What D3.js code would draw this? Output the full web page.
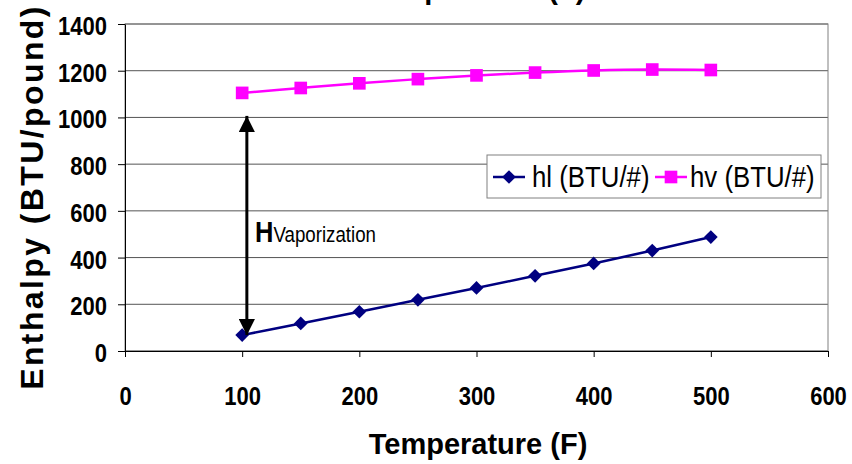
<!DOCTYPE html>
<html>
<head>
<meta charset="utf-8">
<script src="https://cdn.jsdelivr.net/npm/d3@7"></script>
<style>
  body { margin: 0; background: #fff; }
  svg { display: block; font-family: "Liberation Sans", Arial, sans-serif; }
</style>
</head>
<body>
<div id="chart"></div>
<script>
// data (steam table values)
var temps = [100, 150, 200, 250, 300, 350, 400, 450, 500];
var hl = [68, 118, 168, 219, 270, 322, 375, 430, 488];
var hv = [1105, 1126, 1146, 1164, 1180, 1192, 1201, 1205, 1203];
var xTicks = [0, 100, 200, 300, 400, 500, 600];
var yTicks = [0, 200, 400, 600, 800, 1000, 1200, 1400];
var seriesNames = ["hl (BTU/#)", "hv (BTU/#)"];

var svgWidth = 852;
var svgHeight = 464;
var squeeze = 0.88;   // the original text looks horizontally condensed

var svg = d3.select("#chart")
  .append("svg")
  .attr("width", svgWidth)
  .attr("height", svgHeight);

var x = d3.scaleLinear().domain([0, 600]).range([125, 828]);
var y = d3.scaleLinear().domain([0, 1400]).range([351, 24]);

// gridlines
svg.append("g")
  .selectAll("line")
  .data(yTicks)
  .enter()
  .append("line")
  .attr("x1", x(0))
  .attr("x2", x(600))
  .attr("y1", d => y(d))
  .attr("y2", d => y(d))
  .attr("stroke", "#555")
  .attr("stroke-width", 1);

// plot border
svg.append("rect")
  .attr("x", x(0))
  .attr("y", y(1400))
  .attr("width", x(600) - x(0))
  .attr("height", y(0) - y(1400))
  .attr("fill", "none")
  .attr("stroke", "#808080");

// axes
var bottomAxis = d3.axisBottom(x).tickValues(xTicks).tickFormat(d3.format("d")).tickSize(6).tickSizeOuter(0);
var leftAxis = d3.axisLeft(y).tickValues(yTicks).tickFormat(d3.format("d")).tickSize(7).tickSizeOuter(0);

var gx = svg.append("g")
  .attr("transform", `translate(0, ${y(0)})`)
  .call(bottomAxis);
gx.selectAll("text")
  .attr("font-family", "Liberation Sans, Arial, sans-serif")
  .attr("font-size", "25px")
  .attr("font-weight", "bold")
  .attr("fill", "#000")
  .attr("y", 54)
  .attr("dy", 0)
  .attr("transform", `scale(${squeeze}, 1)`);

var gy = svg.append("g")
  .attr("transform", `translate(${x(0)}, 0)`)
  .call(leftAxis);
gy.selectAll("text")
  .attr("font-family", "Liberation Sans, Arial, sans-serif")
  .attr("font-size", "25px")
  .attr("font-weight", "bold")
  .attr("fill", "#000")
  .attr("x", -18 / squeeze)
  .attr("dy", "0.42em")
  .attr("transform", `scale(${squeeze}, 1)`);

svg.selectAll(".domain").attr("stroke", "#000");
svg.selectAll(".tick line").attr("stroke", "#000");

// lines
var line = d3.line()
  .x((d, i) => x(temps[i]))
  .y(d => y(d))
  .curve(d3.curveCatmullRom);

svg.append("path")
  .datum(hl)
  .attr("d", line)
  .attr("fill", "none")
  .attr("stroke", "#000080")
  .attr("stroke-width", 2.5);

svg.append("path")
  .datum(hv)
  .attr("d", line)
  .attr("fill", "none")
  .attr("stroke", "#ff00ff")
  .attr("stroke-width", 2.5);

// markers
var diamond = d3.symbol().type(d3.symbolDiamond2).size(120);
var square = d3.symbol().type(d3.symbolSquare).size(160);

svg.selectAll(".hl-pt")
  .data(hl)
  .enter()
  .append("path")
  .attr("d", diamond)
  .attr("transform", (d, i) => `translate(${x(temps[i])}, ${y(d)})`)
  .attr("fill", "#000080");

svg.selectAll(".hv-pt")
  .data(hv)
  .enter()
  .append("path")
  .attr("d", square)
  .attr("transform", (d, i) => `translate(${x(temps[i])}, ${y(d)})`)
  .attr("fill", "#ff00ff");

// vaporization arrow
var defs = svg.append("defs");
defs.append("marker")
  .attr("id", "head")
  .attr("viewBox", "0 0 10 10")
  .attr("refX", 10)
  .attr("refY", 5)
  .attr("markerWidth", 5.5)
  .attr("markerHeight", 5.5)
  .attr("markerUnits", "strokeWidth")
  .attr("orient", "auto-start-reverse")
  .append("path")
  .attr("d", "M0,0 L10,5 L0,10 Z")
  .attr("fill", "#000");

svg.append("line")
  .attr("x1", x(104))
  .attr("x2", x(104))
  .attr("y1", y(hv[0]) + 23)
  .attr("y2", y(hl[0]))
  .attr("stroke", "#000")
  .attr("stroke-width", 3)
  .attr("marker-start", "url(#head)")
  .attr("marker-end", "url(#head)");

var note = svg.append("text")
  .attr("transform", "translate(255, 242) scale(0.85, 1)")
  .attr("fill", "#000");
note.append("tspan")
  .attr("font-weight", "bold")
  .attr("font-size", "30px")
  .text("H");
note.append("tspan")
  .attr("font-size", "22px")
  .text("Vaporization");

// legend
var legend = svg.append("g").attr("transform", "translate(487, 155)");
legend.append("rect")
  .attr("width", 334)
  .attr("height", 43)
  .attr("fill", "#fff")
  .attr("stroke", "#808080");

var legendItems = [
  { name: seriesNames[0], color: "#000080", sym: diamond, x: 6, tx: 45 },
  { name: seriesNames[1], color: "#ff00ff", sym: square, x: 168, tx: 203 }
];
legendItems.forEach(function(item) {
  var g = legend.append("g").attr("transform", `translate(${item.x}, 22)`);
  g.append("line")
    .attr("x1", 0).attr("x2", 32)
    .attr("stroke", item.color)
    .attr("stroke-width", 2.5);
  g.append("path")
    .attr("d", item.sym)
    .attr("transform", "translate(16, 0)")
    .attr("fill", item.color);
  legend.append("text")
    .attr("transform", `translate(${item.tx}, 32) scale(0.86, 1)`)
    .attr("font-size", "30px")
    .attr("fill", "#000")
    .text(item.name);
});

// axis titles
svg.append("text")
  .attr("transform", "translate(478, 454)")
  .attr("text-anchor", "middle")
  .attr("font-size", "29px")
  .attr("font-weight", "bold")
  .text("Temperature (F)");

// title cut off at the top
svg.append("text")
  .attr("transform", "translate(476, -1)")
  .attr("text-anchor", "middle")
  .attr("font-size", "29px")
  .attr("font-weight", "bold")
  .text("Temperature (F)");

svg.append("text")
  .attr("transform", "translate(43, 197) rotate(-90)")
  .attr("text-anchor", "middle")
  .attr("font-size", "32px")
  .attr("font-weight", "bold")
  .attr("letter-spacing", "2.4px")
  .text("Enthalpy (BTU/pound)");
</script>
</body>
</html>
